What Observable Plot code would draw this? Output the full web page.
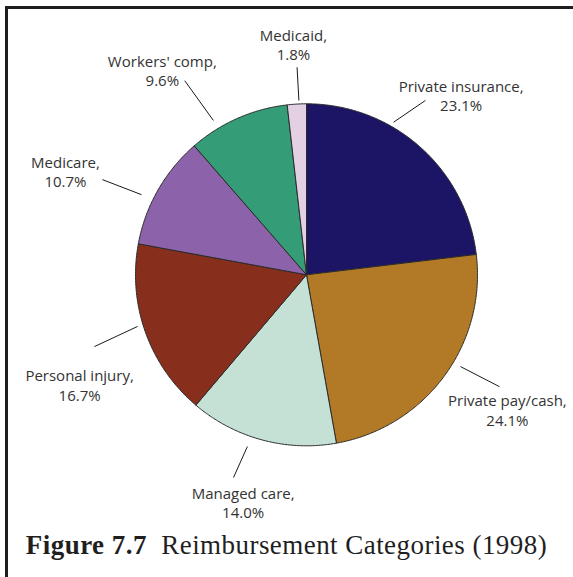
<!DOCTYPE html>
<html>
<head>
<meta charset="utf-8">
<script src="https://cdn.jsdelivr.net/npm/d3@7"></script>
<script src="https://cdn.jsdelivr.net/npm/@observablehq/plot@0.6"></script>
<style>
  html, body { margin: 0; padding: 0; background: #fff; }
  #wrap { position: relative; width: 573px; height: 577px; overflow: hidden; background: #fff; }
  #frame { position: absolute; left: 5px; top: 6px; right: -20px; bottom: -20px;
           border-top: 3px solid #1f1f1f; border-left: 3px solid #1f1f1f; }
  #chart { position: absolute; left: 0; top: 0; }
  #caption { position: absolute; left: 0; top: 532px; width: 573px; text-align: center;
             font-family: "Liberation Serif", serif; font-size: 27px; line-height: 1;
             letter-spacing: 0.45px; color: #1f1f1f; white-space: nowrap; }
  #caption b { font-weight: bold; }
</style>
</head>
<body>
<div id="wrap">
  <div id="frame"></div>
  <div id="chart"></div>
  <div id="caption"><b>Figure 7.7</b>&nbsp; Reimbursement Categories (1998)</div>
</div>
<script>
// ---- data (clockwise from 12 o'clock) ----
const categories = ["Private insurance", "Private pay/cash", "Managed care", "Personal injury", "Medicare", "Workers' comp", "Medicaid"];
const shares = [23.1, 24.1, 14.0, 16.7, 10.7, 9.6, 1.8];
const colors = ["#1c1565", "#b27a27", "#c5e1d6", "#872e1d", "#8c63aa", "#349c77", "#e3d0e3"];

// ---- annotation layout (polar: degrees clockwise from top, radius in pie radii) ----
const labelPolar = [[43.4, 1.316], [126.9, 1.469], [194.6, 1.470], [241.0, 1.517], [290.0, 1.500], [322.6, 1.388], [356.5, 1.256]];
const leaderPolar = [[29.7, 1.027, 34.3, 1.234], [120.8, 1.048, 120.1, 1.304], [199.0, 1.062, 199.8, 1.26],
                     [253.0, 1.033, 251.3, 1.309], [295.9, 1.073, 295.0, 1.317], [328.9, 1.054, 327.9, 1.34], [357.5, 1.02, 357.4, 1.215]];

// ---- geometry ----
const W = 573, H = 522, CX = 306, CY = 274.3, R = 171;
const rad = d => d * Math.PI / 180;
const px = (a, r) => r * Math.sin(rad(a));
const py = (a, r) => -r * Math.cos(rad(a));

const total = d3.sum(shares);
const slicePts = [];
let acc = 0;
categories.forEach((name, i) => {
  const a0 = acc / total * 360, a1 = (acc + shares[i]) / total * 360;
  acc += shares[i];
  slicePts.push({name, x: 0, y: 0});
  const n = Math.max(2, Math.ceil((a1 - a0) / 0.5));
  for (let k = 0; k <= n; ++k) {
    const a = a0 + (a1 - a0) * k / n;
    slicePts.push({name, x: px(a, 1), y: py(a, 1)});
  }
  slicePts.push({name, x: 0, y: 0});
});

const leaders = categories.map((name, i) => {
  const [a0, r0, a1, r1] = leaderPolar[i];
  return {name, x1: px(a0, r0), y1: py(a0, r0), x2: px(a1, r1), y2: py(a1, r1)};
});
const labels = categories.map((name, i) => {
  const [a, r] = labelPolar[i];
  return {name, text: `${name},\n${shares[i].toFixed(1)}%`, x: px(a, r), y: py(a, r)};
});

const chart = Plot.plot({
  width: W, height: H, margin: 0,
  x: {domain: [-CX / R, (W - CX) / R], range: [0, W], axis: null},
  y: {domain: [-CY / R, (H - CY) / R], range: [0, H], axis: null},
  color: {domain: categories, range: colors},
  style: {background: "transparent", overflow: "visible"},
  marks: [
    Plot.line(slicePts, {x: "x", y: "y", z: "name", fill: "name", stroke: "#2b2b2b", strokeWidth: 1, strokeLinejoin: "round"}),
    Plot.link(leaders, {x1: "x1", y1: "y1", x2: "x2", y2: "y2", stroke: "#1a1a1a", strokeWidth: 1}),
    Plot.text(labels, {x: "x", y: "y", text: "text", textAnchor: "middle", lineAnchor: "bottom", lineHeight: 1.3,
                       fontSize: 15, fontFamily: "Open Sans", fill: "#333"})
  ]
});
document.getElementById("chart").appendChild(chart);
</script>
</body>
</html>
